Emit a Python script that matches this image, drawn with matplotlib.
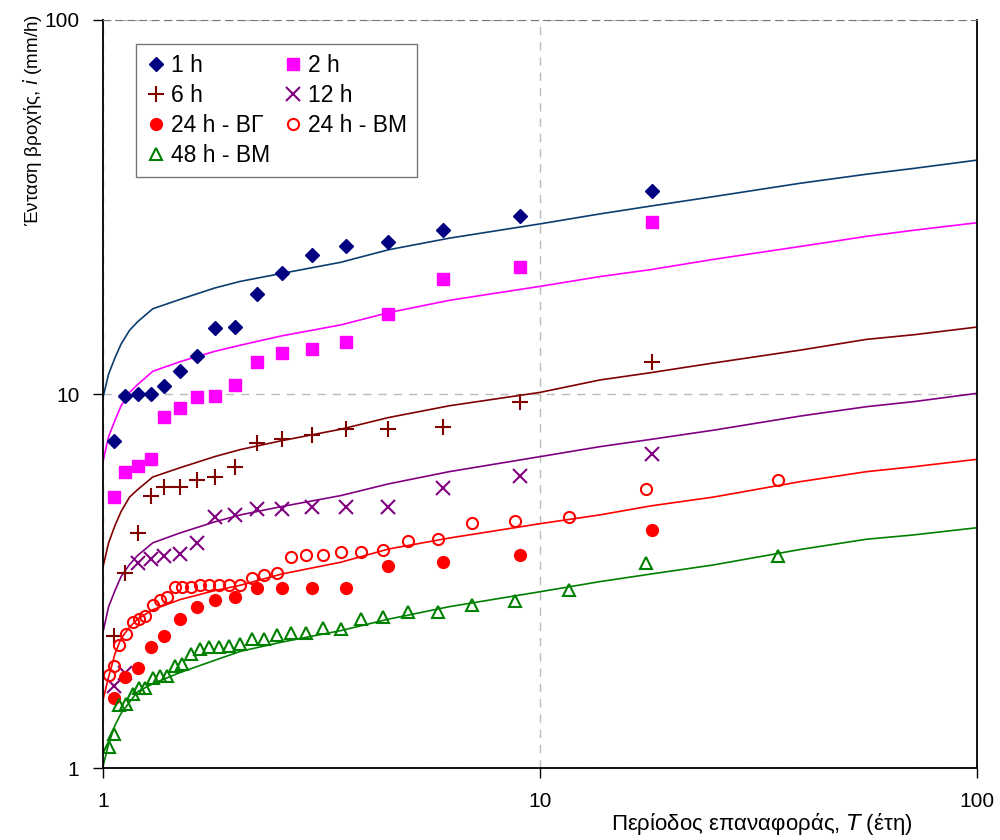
import numpy as np
import matplotlib.pyplot as plt

plt.rcParams['font.family'] = ['Liberation Sans', 'DejaVu Sans']

# παρατηρήσεις (περίοδος επαναφοράς T, ένταση i)
T17 = [1.06, 1.12, 1.2, 1.29, 1.38, 1.5, 1.64, 1.8, 2.0, 2.25, 2.57, 3.0, 3.6, 4.5, 6.0, 9.0, 18.0]
i_1h = [7.5, 9.9, 10.0, 10.0, 10.5, 11.5, 12.6, 15.0, 15.1, 18.5, 21.1, 23.5, 24.9, 25.5, 27.4, 30.0, 35.0]
i_2h = [5.3, 6.2, 6.4, 6.7, 8.7, 9.2, 9.8, 9.9, 10.6, 12.2, 12.9, 13.2, 13.8, 16.4, 20.3, 21.9, 28.9]
i_6h = [2.25, 3.32, 4.26, 5.35, 5.65, 5.65, 5.89, 5.99, 6.39, 7.38, 7.57, 7.75, 8.05, 8.05, 8.18, 9.5, 12.2]
i_12h = [1.66, 1.79, 3.54, 3.61, 3.69, 3.73, 3.99, 4.68, 4.75, 4.92, 4.92, 4.98, 4.98, 4.98, 5.6, 6.03, 6.91]
i_24h_bg = [1.54, 1.75, 1.85, 2.11, 2.26, 2.5, 2.69, 2.81, 2.87, 3.03, 3.03, 3.03, 3.03, 3.47, 3.55, 3.71, 4.33]

T34 = [1.03, 1.06, 1.09, 1.13, 1.17, 1.21, 1.25, 1.3, 1.35, 1.4, 1.46, 1.52, 1.59, 1.67,
       1.75, 1.84, 1.94, 2.06, 2.19, 2.33, 2.5, 2.69, 2.92, 3.18, 3.5, 3.89, 4.38, 5.0,
       5.83, 7.0, 8.75, 11.67, 17.5, 35.0]
i_24h_bm = [1.77, 1.87, 2.13, 2.28, 2.45, 2.51, 2.55, 2.73, 2.81, 2.87, 3.04, 3.04, 3.04, 3.09,
            3.09, 3.09, 3.09, 3.09, 3.22, 3.28, 3.33, 3.67, 3.71, 3.71, 3.79, 3.79, 3.83, 4.05,
            4.1, 4.53, 4.58, 4.68, 5.57, 5.89]
i_48h_bm = [1.14, 1.23, 1.47, 1.48, 1.58, 1.64, 1.64, 1.74, 1.76, 1.76, 1.87, 1.9, 2.02, 2.08,
            2.1, 2.11, 2.12, 2.15, 2.21, 2.21, 2.27, 2.29, 2.29, 2.37, 2.35, 2.5, 2.53, 2.62,
            2.62, 2.73, 2.8, 2.99, 3.53, 3.69]

# καμπύλες IDF
Tc = [1.0, 1.03, 1.065, 1.1, 1.15, 1.2, 1.3, 1.5, 1.8, 2.06, 2.56, 3.5, 4.5, 6.2,
      10, 13.7, 17.9, 24.9, 39.4, 55.9, 71.6, 100]
c_1h = [9.8, 11.3, 12.5, 13.6, 14.8, 15.6, 16.9, 17.9, 19.2, 20.0, 21.0, 22.5, 24.3, 26.1,
        28.5, 30.3, 31.8, 33.7, 36.6, 38.7, 40.1, 42.2]
c_2h = [6.6, 7.7, 8.5, 9.3, 10.1, 10.6, 11.5, 12.2, 13.0, 13.5, 14.3, 15.3, 16.5, 17.8,
        19.4, 20.6, 21.5, 22.9, 24.8, 26.4, 27.4, 28.7]
c_6h = [3.45, 4.0, 4.45, 4.85, 5.3, 5.55, 6.0, 6.35, 6.8, 7.1, 7.5, 8.05, 8.65, 9.3,
        10.1, 10.9, 11.4, 12.1, 13.1, 14.0, 14.4, 15.1]
c_12h = [2.31, 2.7, 2.98, 3.25, 3.5, 3.7, 4.0, 4.25, 4.55, 4.75, 5.0, 5.35, 5.75, 6.2,
         6.8, 7.23, 7.56, 8.0, 8.73, 9.25, 9.54, 10.04]
c_24h = [1.52, 1.75, 2.02, 2.22, 2.38, 2.5, 2.65, 2.82, 2.98, 3.08, 3.3, 3.55, 3.85, 4.12,
         4.5, 4.75, 5.02, 5.3, 5.83, 6.2, 6.39, 6.69]
c_48h = [1.01, 1.16, 1.3, 1.4, 1.5, 1.6, 1.68, 1.8, 1.94, 2.05, 2.17, 2.33, 2.5, 2.7,
         2.96, 3.15, 3.3, 3.49, 3.84, 4.09, 4.2, 4.39]

fig = plt.figure(figsize=(10, 8.4), dpi=100)
ax = fig.add_axes([0.103, 0.0857, 0.874, 0.8905])

# γραμμές
ax.plot(Tc, c_1h, color='#0B3D6E', lw=1.2)
ax.plot(Tc, c_2h, color='#FF00FF', lw=1.2)
ax.plot(Tc, c_6h, color='#800000', lw=1.2)
ax.plot(Tc, c_12h, color='#800080', lw=1.2)
ax.plot(Tc, c_24h, color='#FF0000', lw=1.2)
ax.plot(Tc, c_48h, color='#008000', lw=1.2)

# σημεία
h1, = ax.plot(T17, i_1h, 'D', color='#000080', ms=7, ls='none', label='1 h')
h2, = ax.plot(T17, i_2h, 's', color='#FF00FF', ms=8, ls='none', label='2 h')
h6, = ax.plot(T17, i_6h, '+', color='#800000', ms=11, mew=1.5, ls='none', label='6 h')
h12, = ax.plot(T17, i_12h, 'x', color='#800080', ms=10, mew=1.5, ls='none', label='12 h')
h24a, = ax.plot(T17, i_24h_bg, 'o', color='#FF0000', ms=8.5, ls='none', label='24 h - ΒΓ')
h24b, = ax.plot(T34, i_24h_bm, 'o', mfc='none', mec='#FF0000', mew=1.5, ms=8, ls='none', label='24 h - ΒΜ')
h48, = ax.plot(T34, i_48h_bm, '^', mfc='none', mec='#008000', mew=1.5, ms=9, ls='none', label='48 h - ΒΜ')

ax.set_xscale('log')
ax.set_yscale('log')
ax.set_xlim(1, 100)
ax.set_ylim(1, 100)
ax.set_xticks([1, 10, 100])
ax.set_yticks([1, 10, 100])
ax.set_xticklabels(['1', '10', '100'])
ax.set_yticklabels(['1', '10', '100'])
ax.minorticks_off()
ax.tick_params(labelsize=15, length=7, width=1, direction='out', pad=10)
ax.grid(True, which='major', ls=(0, (6, 5)), color='#BBBBBB', lw=1)
ax.spines['top'].set_linestyle((0, (6, 5)))
ax.spines['top'].set_color('#777777')
for s in ['left', 'bottom', 'right']:
    ax.spines[s].set_linewidth(1.3)

ax.set_xlabel('Περίοδος επαναφοράς, $T$ (έτη)', fontsize=16)
ax.xaxis.set_label_coords(0.754, -0.058)
ax.set_ylabel('Ένταση βροχής, $i$ (mm/h)', fontsize=13.5)
ax.yaxis.set_label_coords(-0.068, 0.866)

leg = ax.legend(handles=[h1, h6, h24a, h48, h2, h12, h24b], ncol=2, loc='upper left',
                bbox_to_anchor=(0.038, 0.968), fontsize=16.5, frameon=True, fancybox=False,
                edgecolor='#555555', handletextpad=0.25, columnspacing=0.6,
                labelspacing=0.3, borderpad=0.45, handlelength=0.8, borderaxespad=0)
leg.get_frame().set_linewidth(1.0)

fig.savefig('out.png', dpi=100)
